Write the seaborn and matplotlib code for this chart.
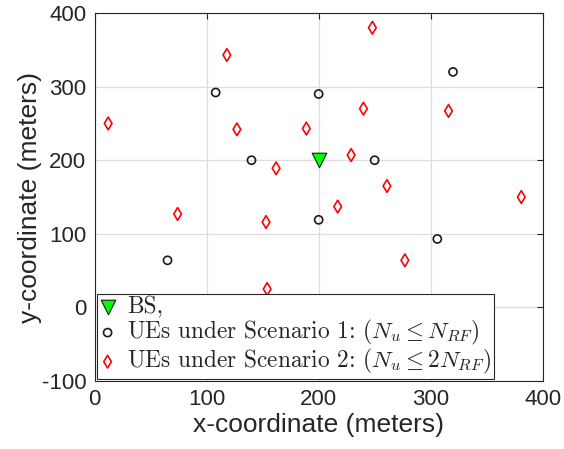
import matplotlib
matplotlib.use("Agg")
import pandas as pd
import seaborn as sns
import matplotlib.pyplot as plt

# base station position
bs_x = [200]
bs_y = [200]

# UEs, scenario 1 (circles)
s1_x = [320, 108, 200, 140, 250, 200, 65, 306]
s1_y = [320, 292, 290, 200, 200, 119, 64, 93]

# UEs, scenario 2 (diamonds)
s2_x = [248, 118, 12, 127, 189, 240, 316, 229, 162, 261, 381, 217, 74, 153, 277, 154]
s2_y = [380, 343, 250, 242, 243, 270, 267, 207, 189, 165, 150, 137, 127, 116, 64, 25]

x_ticks = [0, 100, 200, 300, 400]
y_ticks = [-100, 0, 100, 200, 300, 400]

bs_df = pd.DataFrame({"x": bs_x, "y": bs_y})
s1_df = pd.DataFrame({"x": s1_x, "y": s1_y})
s2_df = pd.DataFrame({"x": s2_x, "y": s2_y})

sns.set_theme(style="white")
plt.rcParams['font.family'] = ['Liberation Sans', 'DejaVu Sans']
plt.rcParams['mathtext.fontset'] = 'cm'
plt.rcParams['axes.unicode_minus'] = False

txt = "#262626"

fig = plt.figure(figsize=(5.64, 4.49), dpi=100)
ax = fig.add_axes([0.168, 0.1514, 0.794, 0.8196])

sns.scatterplot(data=bs_df, x="x", y="y", ax=ax, marker="v", s=110,
                facecolor="#00ff00", edgecolor="k", linewidth=0.8,
                label="BS,", zorder=3)
sns.scatterplot(data=s1_df, x="x", y="y", ax=ax, marker="o", s=34,
                facecolor="none", edgecolor="k", linewidth=1.2,
                label=r"UEs under Scenario 1: $(N_u \leq N_{RF})$", zorder=3)
sns.scatterplot(data=s2_df, x="x", y="y", ax=ax, marker="d", s=42,
                facecolor="none", edgecolor="red", linewidth=1.2,
                label=r"UEs under Scenario 2: $(N_u \leq 2N_{RF})$", zorder=3)

ax.set_xlim(0, 400)
ax.set_ylim(-100, 400)
ax.set_xticks(x_ticks)
ax.set_yticks(y_ticks)
ax.grid(True, color="#dedede", linewidth=0.9)
ax.set_axisbelow(True)
for sp in ax.spines.values():
    sp.set_color(txt)
    sp.set_linewidth(0.8)
ax.tick_params(direction="in", length=4, width=0.8, colors=txt,
               labelsize=16, top=True, right=True, pad=6)
ax.set_xlabel("x-coordinate (meters)", fontsize=19, color=txt, labelpad=2)
ax.set_ylabel("y-coordinate (meters)", fontsize=19, color=txt, labelpad=0)

leg = ax.legend(loc="lower left", borderaxespad=0.1, fancybox=False,
                framealpha=1, edgecolor="#262626", handlelength=0.7,
                handletextpad=0.5, borderpad=0.1, labelspacing=0.0,
                prop={'family': 'cmr10', 'size': 16.8})
leg.get_frame().set_linewidth(0.8)

fig.savefig("out.png", dpi=100)
